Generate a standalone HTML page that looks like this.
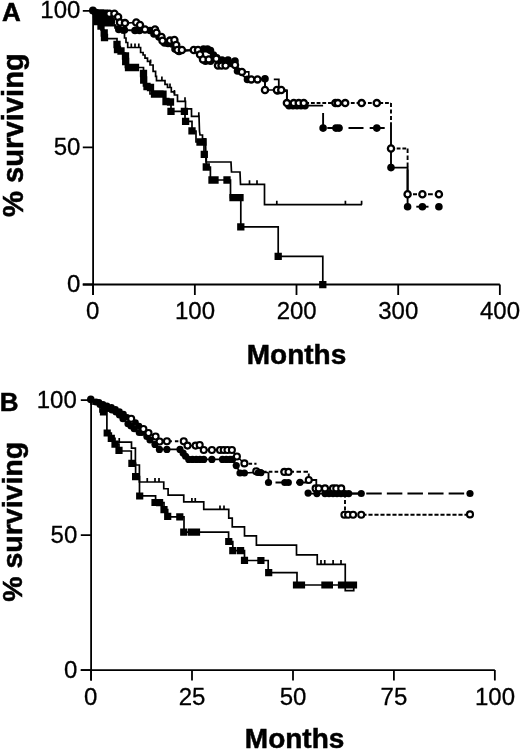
<!DOCTYPE html>
<html><head><meta charset="utf-8"><title>Survival curves</title>
<style>
html,body{margin:0;padding:0;background:#fff;}
body{width:520px;height:751px;overflow:hidden;font-family:"Liberation Sans",sans-serif;}
svg{display:block;will-change:transform;font-family:"Liberation Sans",sans-serif;fill:#000;}
</style></head><body>
<svg width="520" height="751" viewBox="0 0 520 751">
<rect width="520" height="751" fill="#fff"/>
<path d="M93.1 10.8V294.9M82.8 284.5H499.85" stroke="#000" stroke-width="1.8" fill="none"/>
<path d="M93.1 284.5V294.9M194.85 284.5V294.9M296.5 284.5V294.9M398.2 284.5V294.9M499.85 284.5V294.9M82.8 10.8H93.1M82.8 147.45H93.1M82.8 284.5H93.1" stroke="#000" stroke-width="1.8" fill="none"/>
<text x="80.4" y="18.4" font-size="24" text-anchor="end" stroke="#000" stroke-width="0.3">100</text>
<text x="80.4" y="155.0" font-size="24" text-anchor="end" stroke="#000" stroke-width="0.3">50</text>
<text x="80.4" y="291.7" font-size="24" text-anchor="end" stroke="#000" stroke-width="0.3">0</text>
<text x="92.6" y="318.8" font-size="24" text-anchor="middle" stroke="#000" stroke-width="0.3">0</text>
<text x="195" y="318.8" font-size="24" text-anchor="middle" stroke="#000" stroke-width="0.3">100</text>
<text x="296.7" y="318.8" font-size="24" text-anchor="middle" stroke="#000" stroke-width="0.3">200</text>
<text x="398.3" y="318.8" font-size="24" text-anchor="middle" stroke="#000" stroke-width="0.3">300</text>
<text x="500" y="318.8" font-size="24" text-anchor="middle" stroke="#000" stroke-width="0.3">400</text>
<text x="296.5" y="363.7" font-size="28" text-anchor="middle" font-weight="bold" stroke="#000" stroke-width="0.5">Months</text>
<text x="2.0" y="21.2" font-size="26" text-anchor="start" font-weight="bold" stroke="#000" stroke-width="0.5">A</text>
<text transform="translate(22.7,217) rotate(-90)" font-size="29.2" font-weight="bold" stroke="#000" stroke-width="0.5">% surviving</text>
<path d="M91.1 400.1V680.5M80.8 670.1H494.85" stroke="#000" stroke-width="1.8" fill="none"/>
<path d="M91.1 670.1V680.5M192.0 670.1V680.5M293.0 670.1V680.5M393.9 670.1V680.5M494.85 670.1V680.5M80.8 400.1H91.1M80.8 535.2H91.1M80.8 670.1H91.1" stroke="#000" stroke-width="1.8" fill="none"/>
<text x="76.8" y="407.6" font-size="24" text-anchor="end" stroke="#000" stroke-width="0.3">100</text>
<text x="77.3" y="543.3" font-size="24" text-anchor="end" stroke="#000" stroke-width="0.3">50</text>
<text x="77.3" y="678.1" font-size="24" text-anchor="end" stroke="#000" stroke-width="0.3">0</text>
<text x="90.8" y="704.6" font-size="24" text-anchor="middle" stroke="#000" stroke-width="0.3">0</text>
<text x="192.0" y="704.6" font-size="24" text-anchor="middle" stroke="#000" stroke-width="0.3">25</text>
<text x="293" y="704.6" font-size="24" text-anchor="middle" stroke="#000" stroke-width="0.3">50</text>
<text x="393.9" y="704.6" font-size="24" text-anchor="middle" stroke="#000" stroke-width="0.3">75</text>
<text x="495" y="704.6" font-size="24" text-anchor="middle" stroke="#000" stroke-width="0.3">100</text>
<text x="294.6" y="748" font-size="28" text-anchor="middle" font-weight="bold" stroke="#000" stroke-width="0.5">Months</text>
<text x="-0.2" y="410.8" font-size="26" text-anchor="start" font-weight="bold" stroke="#000" stroke-width="0.5">B</text>
<text transform="translate(21.6,601.8) rotate(-90)" font-size="28.5" font-weight="bold" stroke="#000" stroke-width="0.5">% surviving</text>
<path d="M93.1 10.8L93.1 14L96 14L96 18L99 18L99 24L101 24L101 30L104 30L104 38.7L117 38.7L117 50L121 50L121 53L125.5 53L125.5 67.5L143.5 67.5L143.5 86L150 86L150 94L165 94L165 102L171 102L171 111.3L185 111.3L185 121.3L192 121.3L192 131L196 131L196 142L204 142L204 154.3L206.3 154.3L206.3 167L210.4 167L210.4 180L230.5 180L230.5 197.7L240.8 197.7L240.8 226.8L278.2 226.8L278.2 256.3L322.8 256.3L322.8 284.6" stroke="#000" stroke-width="1.7" fill="none"/>
<path d="M92.85 10.85h7.3v7.3h-7.3zM95.85 15.35h7.3v7.3h-7.3zM97.35 22.35h7.3v7.3h-7.3zM100.55 29.35h7.3v7.3h-7.3zM100.85 33.85h7.3v7.3h-7.3zM113.35 40.85h7.3v7.3h-7.3zM113.85 45.85h7.3v7.3h-7.3zM117.35 47.35h7.3v7.3h-7.3zM121.85 52.35h7.3v7.3h-7.3zM122.05 57.85h7.3v7.3h-7.3zM124.85 63.85h7.3v7.3h-7.3zM131.85 63.85h7.3v7.3h-7.3zM139.85 69.85h7.3v7.3h-7.3zM140.05 76.35h7.3v7.3h-7.3zM143.35 82.85h7.3v7.3h-7.3zM146.85 83.85h7.3v7.3h-7.3zM150.85 90.35h7.3v7.3h-7.3zM156.35 90.35h7.3v7.3h-7.3zM159.35 90.55h7.3v7.3h-7.3zM162.35 97.85h7.3v7.3h-7.3zM166.85 98.35h7.3v7.3h-7.3zM167.35 107.65h7.3v7.3h-7.3zM180.75 107.65h7.3v7.3h-7.3zM181.95 117.65h7.3v7.3h-7.3zM188.35 127.15h7.3v7.3h-7.3zM196.35 138.35h7.3v7.3h-7.3zM199.35 138.35h7.3v7.3h-7.3zM200.65 150.65h7.3v7.3h-7.3zM202.65 163.35h7.3v7.3h-7.3zM208.35 176.35h7.3v7.3h-7.3zM211.35 176.35h7.3v7.3h-7.3zM223.35 176.35h7.3v7.3h-7.3zM229.35 194.05h7.3v7.3h-7.3zM236.35 194.05h7.3v7.3h-7.3zM237.15 223.15h7.3v7.3h-7.3zM274.55 252.65h7.3v7.3h-7.3zM319.15 281.05h7.3v7.3h-7.3z" fill="#000"/>
<path d="M92.95 9.15h7.3v7.3h-7.3zM96.85 9.15h7.3v7.3h-7.3zM100.85 9.55h7.3v7.3h-7.3zM93.15 13.35h7.3v7.3h-7.3zM97.35 13.85h7.3v7.3h-7.3zM101.85 13.85h7.3v7.3h-7.3zM105.85 14.85h7.3v7.3h-7.3zM93.85 17.85h7.3v7.3h-7.3zM98.35 18.15h7.3v7.3h-7.3zM102.85 18.35h7.3v7.3h-7.3zM106.35 18.35h7.3v7.3h-7.3z" fill="#000"/>
<path d="M93.1 10.8L95 10.8L95 13L100 13L100 17L104 17L104 25.6L115 25.6L115 28L122 28L122 33L124.5 33L124.5 38L126 38L126 42.5L127.7 42.5L127.7 47.5L140.6 47.5L140.6 52.5L143.1 52.5L143.1 55L145 55L145 58.1L147.5 58.1L147.5 61.3L150 61.3L150 65L153.1 65L153.1 71.3L155.6 71.3L155.6 76.3L156.5 76.3L156.5 80.6L165 80.6L165 84.4L167.5 84.4L167.5 87.5L171.3 87.5L171.3 91.9L174.4 91.9L174.4 95L177.5 95L177.5 101.3L185.5 101.3L185.5 108.8L191.5 108.8L191.5 116.3L199 116.3L199.5 131.3L200 135L202.5 135L202.5 138.8L205.5 138.8L206 162L231 162L231.5 172L240 172L240.5 184.3L264.5 184.3L264.5 204.7L362 204.7" stroke="#000" stroke-width="1.7" fill="none"/>
<path d="M131.3 47.5v-4.0M135 47.5v-4.0M138.8 47.5v-4.0M150.6 63.5v-4.0M161.9 80.6v-4.0M170 87.5v-4.0M174.4 94v-4.0M185 101.3v-4.0M198.8 116.3v-4.0M249.5 184.3v-4.0M257 184.3v-4.0M276.8 204.7v-4.0M345.4 204.7v-4.0M361.6 204.7v-4.0" stroke="#000" stroke-width="1.7" fill="none"/>
<path d="M93.1 10.8L96 12.5L100 14L104 16L108 18.5L111.5 21L118.8 29.4L124.4 30L135 30.5L139.5 30.5L150 30.5L154 34L159 37L164.5 43L168 43.5L172 44L175 49L179 51.5L203.5 49L207.5 49L210.5 50.5L213.5 55L216.8 57.8L222 60L228 60L231.5 63.5L235 61L237.5 71L247.5 79.4L265 78.8" stroke="#000" stroke-width="1.9" fill="none"/>
<path d="M277.5 91H286.9V105.6H323.1" stroke="#000" stroke-width="1.9" fill="none"/>
<path d="M323.1 113V128.1" stroke="#000" stroke-width="1.9" fill="none"/>
<path d="M323.1 128.1H391" stroke="#000" stroke-width="2.0" fill="none" stroke-dasharray="15 6.2" stroke-dashoffset="-4.2"/>
<path d="M391 126V167.6H407.6V206.7" stroke="#000" stroke-width="1.9" fill="none"/>
<path d="M416.3 206.7H428.5" stroke="#000" stroke-width="1.9" fill="none"/>
<path d="M265 78.8V90M273.8 79.4H278.8V87" stroke="#000" stroke-width="1.8" fill="none"/>
<path d="M93.1 10.8L109.4 13.75L114.4 13.75L118.1 16.9L120 22.5L125 23.1L136.25 22.5L140 25L145 29.4L155 29.4L156.5 32.8L161.5 37L162.5 40.8L170 40.6L174.4 40L176.25 45L177.5 50L181.9 50L193.75 50L198 50L200 54.4L203 59.4L208.75 59.4L216.25 58.75L218 65.6L221.5 65.6L225.6 65.6L235 65L241.9 71.9L248.8 71.7L248.8 77L251.25 79.4L257.5 79.4L265 79.4L265 90L276.9 90L281.25 90L286.9 90L286.9 103.1L293.75 103.1L298.75 103.1L303.75 103.1" stroke="#000" stroke-width="1.6" fill="none"/>
<path d="M303.75 102.9H391" stroke="#000" stroke-width="2.0" fill="none" stroke-dasharray="3.8 1.9" stroke-dashoffset="-1.5"/>
<path d="M391 103.1V126" stroke="#000" stroke-width="1.9" fill="none" stroke-dasharray="4 2.4" stroke-dashoffset="0"/>
<path d="M391 148.5H407.6" stroke="#000" stroke-width="2.0" fill="none" stroke-dasharray="3.8 1.9" stroke-dashoffset="0"/>
<path d="M407.6 148.5V174" stroke="#000" stroke-width="1.9" fill="none" stroke-dasharray="4.5 2.5" stroke-dashoffset="0"/>
<path d="M407.6 174V194.2M413 194.2H417M428 194.2H432.8" stroke="#000" stroke-width="1.9" fill="none"/>
<g fill="#000"><circle cx="92.9" cy="10.4" r="3.9"/></g>
<g fill="#000"><circle cx="96" cy="12.5" r="3.8"/><circle cx="100" cy="14" r="3.8"/><circle cx="104" cy="16" r="3.8"/><circle cx="108" cy="18.5" r="3.8"/><circle cx="111.5" cy="21" r="3.8"/><circle cx="118.8" cy="29.4" r="3.8"/><circle cx="124.4" cy="30" r="3.8"/><circle cx="135" cy="30.5" r="3.8"/><circle cx="139.5" cy="30.5" r="3.8"/><circle cx="150" cy="30.5" r="3.8"/><circle cx="154" cy="34" r="3.8"/><circle cx="159" cy="37" r="3.8"/><circle cx="164.5" cy="43" r="3.8"/><circle cx="168" cy="43.5" r="3.8"/><circle cx="172" cy="44" r="3.8"/><circle cx="175" cy="49" r="3.8"/><circle cx="179" cy="51.5" r="3.8"/><circle cx="203.5" cy="49" r="3.8"/><circle cx="207.5" cy="49" r="3.8"/><circle cx="210.5" cy="50.5" r="3.8"/><circle cx="213.5" cy="55" r="3.8"/><circle cx="216.8" cy="57.8" r="3.8"/><circle cx="222" cy="60" r="3.8"/><circle cx="228" cy="60" r="3.8"/><circle cx="231.5" cy="63.5" r="3.8"/><circle cx="235" cy="61" r="3.8"/><circle cx="237.5" cy="71" r="3.8"/><circle cx="247.5" cy="79.4" r="3.8"/><circle cx="265" cy="78.8" r="3.8"/><circle cx="205.5" cy="61.3" r="3.8"/><circle cx="210.5" cy="61.3" r="3.8"/><circle cx="277.5" cy="91" r="3.8"/><circle cx="289" cy="105.8" r="3.8"/><circle cx="293" cy="105.8" r="3.8"/><circle cx="297" cy="105.8" r="3.8"/><circle cx="301" cy="105.8" r="3.8"/><circle cx="305" cy="105.8" r="3.8"/><circle cx="323.1" cy="128.1" r="3.8"/><circle cx="336" cy="128.1" r="3.8"/><circle cx="339" cy="128.1" r="3.8"/><circle cx="376.8" cy="128.1" r="3.8"/><circle cx="391" cy="167.6" r="3.8"/><circle cx="407.6" cy="206.7" r="3.8"/><circle cx="422.4" cy="206.7" r="3.8"/><circle cx="438.9" cy="206.7" r="3.8"/></g>
<g fill="#fff" stroke="#000" stroke-width="2.3"><circle cx="109.4" cy="13.75" r="3.1"/><circle cx="114.4" cy="13.75" r="3.1"/><circle cx="118.1" cy="16.9" r="3.1"/><circle cx="120" cy="22.5" r="3.1"/><circle cx="125" cy="23.1" r="3.1"/><circle cx="136.25" cy="22.5" r="3.1"/><circle cx="140" cy="25" r="3.1"/><circle cx="145" cy="29.4" r="3.1"/><circle cx="155" cy="29.4" r="3.1"/><circle cx="156.5" cy="32.8" r="3.1"/><circle cx="161.5" cy="37" r="3.1"/><circle cx="162.5" cy="40.8" r="3.1"/><circle cx="170" cy="40.6" r="3.1"/><circle cx="174.4" cy="40" r="3.1"/><circle cx="176.25" cy="45" r="3.1"/><circle cx="177.5" cy="50" r="3.1"/><circle cx="181.9" cy="50" r="3.1"/><circle cx="193.75" cy="50" r="3.1"/><circle cx="198" cy="50" r="3.1"/><circle cx="200" cy="54.4" r="3.1"/><circle cx="203" cy="59.4" r="3.1"/><circle cx="208.75" cy="59.4" r="3.1"/><circle cx="216.25" cy="58.75" r="3.1"/><circle cx="218" cy="65.6" r="3.1"/><circle cx="221.5" cy="65.6" r="3.1"/><circle cx="225.6" cy="65.6" r="3.1"/><circle cx="235" cy="65" r="3.1"/><circle cx="241.9" cy="71.9" r="3.1"/><circle cx="251.25" cy="79.4" r="3.1"/><circle cx="257.5" cy="79.4" r="3.1"/><circle cx="265" cy="90" r="3.1"/><circle cx="276.9" cy="90" r="3.1"/><circle cx="281.25" cy="90" r="3.1"/><circle cx="286.9" cy="103.1" r="3.1"/><circle cx="293.75" cy="103.1" r="3.1"/><circle cx="298.75" cy="103.1" r="3.1"/><circle cx="303.75" cy="103.1" r="3.1"/><circle cx="335.4" cy="103.1" r="3.1"/><circle cx="337.9" cy="103.1" r="3.1"/><circle cx="345.2" cy="103.1" r="3.1"/><circle cx="361.6" cy="103.1" r="3.1"/><circle cx="376.8" cy="103.1" r="3.1"/><circle cx="391" cy="148.5" r="3.1"/><circle cx="407.6" cy="194.2" r="3.1"/><circle cx="422.4" cy="194.2" r="3.1"/><circle cx="438.9" cy="194.2" r="3.1"/></g>
<path d="M91.1 400L91.1 404L100 404L100 412L106.9 412L106.9 433L111.3 433L111.3 438.3L115 438.3L115 444.2L119 444.2L119 451L131.3 451L131.3 463.4L135.6 463.4L135.6 476.6L139.5 476.6L139.5 495.8L155.6 495.8L155.6 502.6L164 502.6L164 509.6L167.7 509.6L167.7 516.9L184 516.9L184 532.2L228.6 532.2L228.6 541.5L232.8 541.5L232.8 550.6L244.5 550.6L244.5 560.5L268.2 560.5L268.2 572.7L297 572.7L297 585L356 585" stroke="#000" stroke-width="1.7" fill="none"/>
<path d="M99.9 408.4h7.2v7.2h-7.2zM103.6 429.4h7.2v7.2h-7.2zM107.7 434.7h7.2v7.2h-7.2zM111.4 440.6h7.2v7.2h-7.2zM115.4 446.7h7.2v7.2h-7.2zM128.3 459.8h7.2v7.2h-7.2zM132.0 473.0h7.2v7.2h-7.2zM136.1 492.4h7.2v7.2h-7.2zM151.4 498.9h7.2v7.2h-7.2zM156.0 499.1h7.2v7.2h-7.2zM160.4 506.0h7.2v7.2h-7.2zM164.1 512.7h7.2v7.2h-7.2zM176.2 513.3h7.2v7.2h-7.2zM180.15 528.6h7.2v7.2h-7.2zM187.9 528.6h7.2v7.2h-7.2zM192.9 528.6h7.2v7.2h-7.2zM225.15 537.9h7.2v7.2h-7.2zM229.2 547.0h7.2v7.2h-7.2zM237.0 547.0h7.2v7.2h-7.2zM240.9 556.7h7.2v7.2h-7.2zM257.3 556.9h7.2v7.2h-7.2zM265.1 569.1h7.2v7.2h-7.2zM292.9 581.4h7.2v7.2h-7.2zM297.9 581.4h7.2v7.2h-7.2zM321.3 581.4h7.2v7.2h-7.2zM325.8 581.4h7.2v7.2h-7.2zM337.9 581.4h7.2v7.2h-7.2zM342.4 581.4h7.2v7.2h-7.2zM346.4 581.4h7.2v7.2h-7.2zM349.9 581.4h7.2v7.2h-7.2z" fill="#000"/>
<path d="M117 442.1L131.5 442.1L131.5 448.1L135.4 448.1L135.4 465L139.4 465L139.4 482L163.75 482L163.75 488.75L168.1 488.75L168.1 495.2L183.75 495.2L183.75 501.9L203.75 501.9L203.75 509.4L228.75 509.4L228.75 518.1L232.25 518.1L232.25 526.9L244.5 526.9L244.5 535.8L256.4 535.8L256.4 545.1L296.5 545.1L296.5 554.8L317.25 554.8L317.25 564.4L345.25 564.4L345.25 590.6L353.75 590.6L353.75 587" stroke="#000" stroke-width="1.7" fill="none"/>
<path d="M119.25 442.1v-4.0M147.25 482v-4.0M155 482v-4.0M159 482v-4.0M191.9 501.9v-4.0M195.25 501.9v-4.0M220 509.4v-4.0M224 509.4v-4.0" stroke="#000" stroke-width="1.7" fill="none"/>
<path d="M321 564.4v-4.5M324.75 564.4v-4.5M333.1 564.4v-4.5M341 564.4v-4.5" stroke="#000" stroke-width="1.7" fill="none"/>
<path d="M91.1 400L96 402L100 404.5L104 407L108 408.5L112 410L116 412L119.5 415L123 418.75L128 423.75L131 426L134.25 428.75L139.25 432.5L141.9 432.5L146.9 436.5L150 440L155 444.4L159.4 449.4L166.9 449.4L180 449.4L183.1 453.1L185.6 456.25L188.75 459.4L192.5 459.4L196.25 459.4L200 459.4L203.75 459.4L211.9 459.4L222.5 459.4L226.25 459.4L230 459.4L232.5 459.4L236.25 465.6L240 473L244.4 473L257.5 472.2L260.6 472.5L268.5 472.5" stroke="#000" stroke-width="1.7" fill="none"/>
<path d="M268.5 472.5V482.5" stroke="#000" stroke-width="1.9" fill="none"/>
<path d="M268.5 482.5H308.1" stroke="#000" stroke-width="1.9" fill="none" stroke-dasharray="15 5.6" stroke-dashoffset="-7"/>
<path d="M308.1 493.6H361.25" stroke="#000" stroke-width="1.9" fill="none"/>
<path d="M345.65 493.5H470" stroke="#000" stroke-width="2.0" fill="none" stroke-dasharray="15.5 5.1" stroke-dashoffset="0"/>
<path d="M131.2 418.8L143.4 429L148.5 433L155.6 436.5L159.6 441.5L166.9 441.25" stroke="#000" stroke-width="1.6" fill="none"/>
<path d="M166.9 441.25H183.75" stroke="#000" stroke-width="1.9" fill="none" stroke-dasharray="3.5 3" stroke-dashoffset="-8"/>
<path d="M183.75 441.25L187.5 445.6L195.6 445.6L199.7 445L203.75 450L211.9 450L220 450L223.75 450L227.5 450L231.9 450L236.9 456.5L244.4 463.4" stroke="#000" stroke-width="1.6" fill="none"/>
<path d="M248.5 463.7H256.5M263 471.7H284.4" stroke="#000" stroke-width="1.9" fill="none" stroke-dasharray="3.6 2.2" stroke-dashoffset="0"/>
<path d="M288.5 471.7H308.75V480" stroke="#000" stroke-width="1.9" fill="none" stroke-dasharray="4.5 2.5" stroke-dashoffset="-1"/>
<path d="M308.75 480H316.3V488.4H341.25" stroke="#000" stroke-width="1.8" fill="none"/>
<path d="M345 493.6V514.75" stroke="#000" stroke-width="1.9" fill="none" stroke-dasharray="4 2.5" stroke-dashoffset="0"/>
<path d="M361.25 514.75H470" stroke="#000" stroke-width="2.1" fill="none" stroke-dasharray="4.1 1.9" stroke-dashoffset="-1.2"/>
<g fill="#000"><circle cx="90.8" cy="399.4" r="3.8"/></g>
<g fill="#000"><circle cx="96" cy="402" r="3.6"/><circle cx="100" cy="404.5" r="3.6"/><circle cx="104" cy="407" r="3.6"/><circle cx="108" cy="408.5" r="3.6"/><circle cx="112" cy="410" r="3.6"/><circle cx="116" cy="412" r="3.6"/><circle cx="119.5" cy="415" r="3.6"/><circle cx="123" cy="418.75" r="3.6"/><circle cx="128" cy="423.75" r="3.6"/><circle cx="131" cy="426" r="3.6"/><circle cx="134.25" cy="428.75" r="3.6"/><circle cx="139.25" cy="432.5" r="3.6"/><circle cx="141.9" cy="432.5" r="3.6"/><circle cx="146.9" cy="436.5" r="3.6"/><circle cx="150" cy="440" r="3.6"/><circle cx="155" cy="444.4" r="3.6"/><circle cx="159.4" cy="449.4" r="3.6"/><circle cx="166.9" cy="449.4" r="3.6"/><circle cx="180" cy="449.4" r="3.6"/><circle cx="183.1" cy="453.1" r="3.6"/><circle cx="185.6" cy="456.25" r="3.6"/><circle cx="188.75" cy="459.4" r="3.6"/><circle cx="192.5" cy="459.4" r="3.6"/><circle cx="196.25" cy="459.4" r="3.6"/><circle cx="200" cy="459.4" r="3.6"/><circle cx="203.75" cy="459.4" r="3.6"/><circle cx="211.9" cy="459.4" r="3.6"/><circle cx="222.5" cy="459.4" r="3.6"/><circle cx="226.25" cy="459.4" r="3.6"/><circle cx="230" cy="459.4" r="3.6"/><circle cx="232.5" cy="459.4" r="3.6"/><circle cx="236.25" cy="465.6" r="3.6"/><circle cx="240" cy="473" r="3.6"/><circle cx="244.4" cy="473" r="3.6"/><circle cx="257.5" cy="472.2" r="3.6"/><circle cx="260.6" cy="472.5" r="3.6"/><circle cx="268.5" cy="482.5" r="3.6"/><circle cx="284.8" cy="482.5" r="3.6"/><circle cx="288.3" cy="482.5" r="3.6"/><circle cx="300" cy="482.3" r="3.6"/><circle cx="308.1" cy="493.1" r="3.6"/><circle cx="316.9" cy="493.6" r="3.6"/><circle cx="325" cy="493.6" r="3.6"/><circle cx="329" cy="493.6" r="3.6"/><circle cx="333" cy="493.6" r="3.6"/><circle cx="337" cy="493.6" r="3.6"/><circle cx="341" cy="493.6" r="3.6"/><circle cx="345" cy="493.6" r="3.6"/><circle cx="348.75" cy="493.6" r="3.6"/><circle cx="361.25" cy="493.5" r="3.6"/><circle cx="470" cy="493.5" r="3.6"/></g>
<g fill="#000"><circle cx="99" cy="402.3" r="3.3"/><circle cx="103" cy="404.3" r="3.3"/><circle cx="107" cy="405.8" r="3.3"/><circle cx="111.5" cy="407.3" r="3.3"/><circle cx="115.5" cy="409.3" r="3.3"/><circle cx="119.5" cy="411.5" r="3.3"/><circle cx="123.5" cy="414" r="3.3"/><circle cx="127" cy="417.2" r="3.3"/><circle cx="135.5" cy="422.5" r="3.3"/><circle cx="139" cy="426" r="3.3"/></g>
<g fill="#fff" stroke="#000" stroke-width="2.1"><circle cx="131.2" cy="418.8" r="3.0"/><circle cx="143.4" cy="429" r="3.0"/><circle cx="148.5" cy="433" r="3.0"/><circle cx="155.6" cy="436.5" r="3.0"/><circle cx="159.6" cy="441.5" r="3.0"/><circle cx="166.9" cy="441.25" r="3.0"/><circle cx="183.75" cy="441.25" r="3.0"/><circle cx="187.5" cy="445.6" r="3.0"/><circle cx="195.6" cy="445.6" r="3.0"/><circle cx="199.7" cy="445" r="3.0"/><circle cx="203.75" cy="450" r="3.0"/><circle cx="211.9" cy="450" r="3.0"/><circle cx="220" cy="450" r="3.0"/><circle cx="223.75" cy="450" r="3.0"/><circle cx="227.5" cy="450" r="3.0"/><circle cx="231.9" cy="450" r="3.0"/><circle cx="236.9" cy="456.5" r="3.0"/><circle cx="244.4" cy="463.4" r="3.0"/><circle cx="256.25" cy="471.3" r="3.0"/><circle cx="284.4" cy="471.9" r="3.0"/><circle cx="288.5" cy="471.9" r="3.0"/><circle cx="308.75" cy="480" r="3.0"/><circle cx="315.6" cy="488.4" r="3.0"/><circle cx="318.75" cy="488.4" r="3.0"/><circle cx="325" cy="488.4" r="3.0"/><circle cx="333" cy="488.4" r="3.0"/><circle cx="336.25" cy="488.4" r="3.0"/><circle cx="341.25" cy="488.4" r="3.0"/><circle cx="344.4" cy="514.75" r="3.0"/><circle cx="348.1" cy="514.75" r="3.0"/><circle cx="353.1" cy="514.75" r="3.0"/><circle cx="361.25" cy="514.75" r="3.0"/><circle cx="470" cy="514.4" r="3.0"/></g>
<g fill="#000"><circle cx="258.2" cy="472.6" r="3.4"/><circle cx="261" cy="472.8" r="3.4"/></g>
</svg>
</body></html>
